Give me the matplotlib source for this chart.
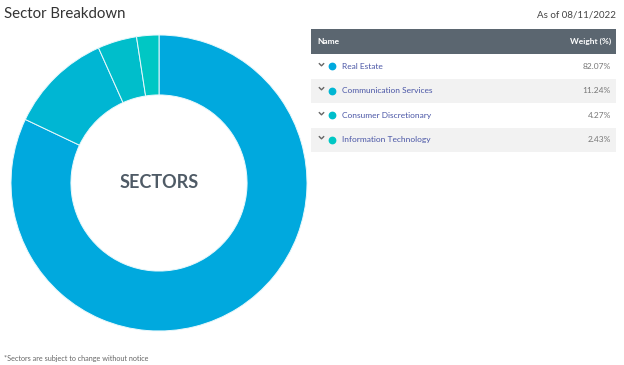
import matplotlib.pyplot as plt
from matplotlib.patches import Rectangle
from matplotlib.path import Path

plt.rcParams['font.family'] = ['Lato', 'DejaVu Sans']

# data
sectors = ['Real Estate', 'Communication Services', 'Consumer Discretionary', 'Information Technology']
weights = [82.07, 11.24, 4.27, 2.43]
colors = ['#00a9de', '#00b6d3', '#00becb', '#00c7c4']
as_of = 'As of 08/11/2022'

W, H = 624, 365
fig = plt.figure(figsize=(W / 100, H / 100), dpi=100)

# background axes in pixel coords for text/table
bg = fig.add_axes([0, 0, 1, 1])
bg.set_xlim(0, W)
bg.set_ylim(H, 0)
bg.axis('off')

bg.text(4, 14, 'Sector Breakdown', fontsize=10.8, color='#333333', va='center', ha='left')
bg.text(616, 15, as_of, fontsize=7, color='#444444', va='center', ha='right')
bg.text(4, 358, '*Sectors are subject to change without notice', fontsize=5.2,
        color='#666666', va='center', ha='left')

# chevron marker
chev = Path([(-1, 0.5), (0, -0.5), (1, 0.5)], [Path.MOVETO, Path.LINETO, Path.LINETO])

# table
tx0, tx1 = 311, 616
head_top, head_h, row_h = 29, 25, 24.5
bg.add_patch(Rectangle((tx0, head_top), tx1 - tx0, head_h, color='#5b6670', lw=0))
bg.text(tx0 + 6, head_top + head_h / 2, 'Name', fontsize=6, color='white',
        fontweight='bold', va='center')
bg.text(tx1 - 5, head_top + head_h / 2, 'Weight (%)', fontsize=6, color='white',
        fontweight='bold', va='center', ha='right')
for i, (name, w, c) in enumerate(zip(sectors, weights, colors)):
    y0 = head_top + head_h + i * row_h
    fc = '#f2f2f2' if i % 2 == 1 else 'white'
    bg.add_patch(Rectangle((tx0, y0), tx1 - tx0, row_h, color=fc, lw=0))
    yc = y0 + row_h / 2
    bg.plot([320.5], [yc - 2.5], marker=chev, markersize=3.8, mfc='none',
            mec='#666666', mew=1.0, ls='none')
    bg.plot([332], [yc], 'o', color=c, markersize=4.6)
    bg.text(342, yc, name, fontsize=6, color='#4a56a6', va='center', ha='left')
    bg.text(tx1 - 5, yc, f'{w:.2f}%', fontsize=6, color='#777777', va='center', ha='right')

# donut
cx, cy, r = 159, 183, 148
ax = fig.add_axes([(cx - r) / W, (H - cy - r) / H, 2 * r / W, 2 * r / H])
ax.pie(weights, colors=colors, startangle=90, counterclock=False, radius=1,
       wedgeprops=dict(width=0.405, edgecolor='#e8f8fc', linewidth=0.7))
ax.set_xlim(-1, 1)
ax.set_ylim(-1, 1)
ax.set_aspect('equal')
ax.axis('off')
ax.text(0, 0, 'SECTORS', fontsize=13, fontweight='bold', color='#4f5b66',
        ha='center', va='center')

fig.savefig('out.png', dpi=100)
